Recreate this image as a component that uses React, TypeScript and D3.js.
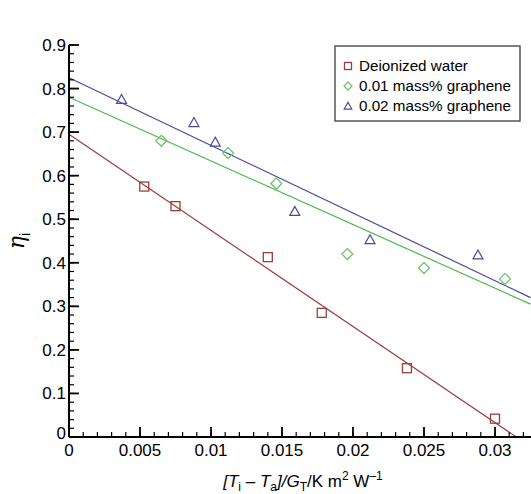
import React from "react";
import * as d3 from "d3";

const waterX = [0.0053, 0.0075, 0.014, 0.0178, 0.0238, 0.030];
const waterY = [0.575, 0.53, 0.413, 0.285, 0.158, 0.042];
const g01X = [0.0065, 0.0112, 0.0146, 0.0196, 0.025, 0.0307];
const g01Y = [0.68, 0.652, 0.582, 0.42, 0.388, 0.363];
const g02X = [0.0037, 0.0088, 0.0103, 0.0159, 0.0212, 0.0288];
const g02Y = [0.775, 0.722, 0.677, 0.518, 0.453, 0.418];
// fitted lines: [x0, y0, x1, y1]
const waterFit = [0, 0.695, 0.0315, 0];
const g01Fit = [0, 0.78, 0.0325, 0.305];
const g02Fit = [0, 0.825, 0.0325, 0.32];
const xTicks = [0, 0.005, 0.01, 0.015, 0.02, 0.025, 0.03];
const xTickLabels = ["0", "0.005", "0.01", "0.015", "0.02", "0.025", "0.03"];
const yTicks = [0, 0.1, 0.2, 0.3, 0.4, 0.5, 0.6, 0.7, 0.8, 0.9];
const yTickLabels = ["0", "0.1", "0.2", "0.3", "0.4", "0.5", "0.6", "0.7", "0.8", "0.9"];
const legendLabels = ["Deionized water", "0.01 mass% graphene", "0.02 mass% graphene"];

const W = 531, H = 494;
const x = d3.scaleLinear().domain([0, 0.035]).range([69, 566]);
const y = d3.scaleLinear().domain([0, 0.9]).range([437, 45]);

const RED = "#9a3d3d";
const GREEN_LINE = "#4cb84c";
const GREEN_PT = "#72c272";
const BLUE = "#4a4a9a";
const FONT = "'Liberation Sans', Arial, Helvetica, sans-serif";

function Square({ cx, cy, s = 4.5 }: { cx: number; cy: number; s?: number }) {
  return <rect x={cx - s} y={cy - s} width={2 * s} height={2 * s} fill="none" stroke={RED} strokeWidth={1.3} />;
}
function Diamond({ cx, cy, s = 5.5 }: { cx: number; cy: number; s?: number }) {
  return <path d={`M${cx},${cy - s}L${cx + s},${cy}L${cx},${cy + s}L${cx - s},${cy}Z`} fill="none" stroke={GREEN_PT} strokeWidth={1.3} />;
}
function Tri({ cx, cy, s = 5 }: { cx: number; cy: number; s?: number }) {
  return <path d={`M${cx},${cy - s}L${cx + s},${cy + s * 0.8}L${cx - s},${cy + s * 0.8}Z`} fill="none" stroke={BLUE} strokeWidth={1.2} />;
}

export default function App() {
  const xMinor = d3.range(0, 0.0351, 0.001);
  const yMinor = d3.range(0, 0.9001, 0.02);
  const line = (f: number[], c: string) => (
    <line x1={x(f[0])} y1={y(f[1])} x2={x(f[2])} y2={y(f[3])} stroke={c} strokeWidth={1.2} />
  );
  return (
    <svg width={W} height={H} style={{ position: "absolute", left: 0, top: 0, background: "#fff" }} fontFamily={FONT}>
      {line(waterFit, RED)}
      {line(g01Fit, GREEN_LINE)}
      {line(g02Fit, BLUE)}
      {waterX.map((v, i) => <Square key={"w" + i} cx={x(v)} cy={y(waterY[i])} />)}
      {g01X.map((v, i) => <Diamond key={"g" + i} cx={x(v)} cy={y(g01Y[i])} />)}
      {g02X.map((v, i) => <Tri key={"b" + i} cx={x(v)} cy={y(g02Y[i])} />)}
      {/* axes */}
      <line x1={x(0)} y1={y(0)} x2={W} y2={y(0)} stroke="#000" strokeWidth={2} />
      <line x1={x(0)} y1={y(0)} x2={x(0)} y2={y(0.9)} stroke="#000" strokeWidth={2} />
      {xMinor.map((v, i) => (
        <line key={"xm" + i} x1={x(v)} x2={x(v)} y1={y(0)} y2={y(0) - 5} stroke="#000" strokeWidth={1.2} />
      ))}
      {xTicks.map((v, i) => (
        <g key={"xt" + i}>
          <line x1={x(v)} x2={x(v)} y1={y(0)} y2={y(0) - 10} stroke="#000" strokeWidth={1.8} />
          <text x={x(v)} y={y(0) + 19} textAnchor="middle" fontSize={17}>{xTickLabels[i]}</text>
        </g>
      ))}
      {yMinor.map((v, i) => (
        <line key={"ym" + i} x1={x(0)} x2={x(0) + 5} y1={y(v)} y2={y(v)} stroke="#000" strokeWidth={1.2} />
      ))}
      {yTicks.map((v, i) => (
        <g key={"yt" + i}>
          <line x1={x(0)} x2={x(0) + 10} y1={y(v)} y2={y(v)} stroke="#000" strokeWidth={1.8} />
          <text x={x(0) - 3} y={y(v) + (v === 0 ? 2 : 6)} textAnchor="end" fontSize={17}>{yTickLabels[i]}</text>
        </g>
      ))}
      {/* axis titles */}
      <text x={303} y={487} textAnchor="middle" fontSize={17}>
        <tspan fontStyle="italic">[T</tspan>
        <tspan fontSize={12} dy={4}>i</tspan>
        <tspan dy={-4}> – </tspan>
        <tspan fontStyle="italic">T</tspan>
        <tspan fontSize={12} dy={4}>a</tspan>
        <tspan dy={-4} fontStyle="italic">]/G</tspan>
        <tspan fontSize={12} dy={4}>T</tspan>
        <tspan dy={-4}>/K m</tspan>
        <tspan fontSize={12} dy={-7}>2</tspan>
        <tspan dy={7}> W</tspan>
        <tspan fontSize={12} dy={-7}>–1</tspan>
      </text>
      <text transform={`translate(24,${y(0.45)}) rotate(-90)`} textAnchor="middle" fontSize={22} fontFamily="'DejaVu Serif', serif">
        <tspan fontStyle="italic">η</tspan>
        <tspan fontSize={14} dy={6} fontFamily={FONT}>i</tspan>
      </text>
      {/* legend */}
      <rect x={335} y={46} width={185} height={75} fill="#fff" stroke="#555" strokeWidth={1.5} />
      <Square cx={348} cy={66} s={3.5} />
      <Diamond cx={348} cy={86} s={4} />
      <Tri cx={348} cy={106} s={3.8} />
      {legendLabels.map((t, i) => (
        <text key={"l" + i} x={359} y={71 + i * 20} fontSize={15.2}>{t}</text>
      ))}
    </svg>
  );
}
